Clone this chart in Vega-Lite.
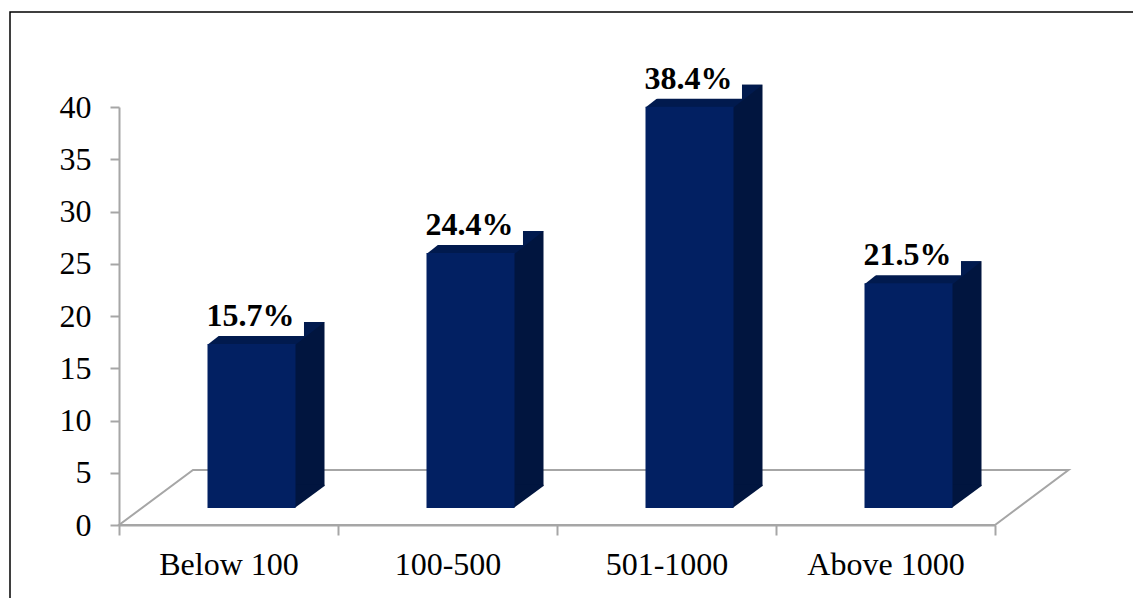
{
  "$schema": "https://vega.github.io/schema/vega-lite/v6.json",
  "width": 1140,
  "height": 600,
  "padding": {"left": 10, "top": 12, "right": 0, "bottom": 0},
  "autosize": {"type": "none"},
  "background": "white",
  "config": {"view": {"stroke": "#000000", "strokeWidth": 1.5}},
  "data": {
    "values": [
      {"cat": "Below 100", "value": 15.7, "label": "15.7%"},
      {"cat": "100-500", "value": 24.4, "label": "24.4%"},
      {"cat": "501-1000", "value": 38.4, "label": "38.4%"},
      {"cat": "Above 1000", "value": 21.5, "label": "21.5%"}
    ]
  },
  "encoding": {
    "x": {
      "field": "cat",
      "type": "nominal",
      "sort": null,
      "scale": {"range": [109, 985], "paddingInner": 0, "paddingOuter": 0},
      "axis": {
        "title": null,
        "orient": "bottom",
        "offset": -87,
        "tickBand": "extent",
        "tickSize": 10,
        "tickWidth": 2,
        "tickColor": "#A6A6A6",
        "domainColor": "#A6A6A6",
        "domainWidth": 2,
        "labelFont": "Liberation Serif",
        "labelFontSize": 32,
        "labelColor": "#000000",
        "labelAngle": 0,
        "labelBaseline": "alphabetic",
        "labelPadding": 39,
        "grid": false
      }
    },
    "y": {
      "field": "value",
      "type": "quantitative",
      "scale": {"domain": [0, 40], "range": [513, 95], "nice": false, "zero": true},
      "axis": {
        "title": null,
        "values": [0, 5, 10, 15, 20, 25, 30, 35, 40],
        "offset": -109,
        "tickSize": 9,
        "tickWidth": 2,
        "tickColor": "#A6A6A6",
        "domainColor": "#A6A6A6",
        "domainWidth": 2,
        "labelFont": "Liberation Serif",
        "labelFontSize": 32,
        "labelColor": "#000000",
        "labelPadding": 19,
        "labelBaseline": "middle",
        "grid": false
      }
    }
  },
  "layer": [
    {
      "transform": [{"filter": "datum.cat == 'Below 100'"}],
      "mark": {
        "type": "point",
        "shape": "M -1.095 0 L 7.665 0 L 8.4 -0.55 L -0.355 -0.55 Z",
        "size": 40000,
        "filled": false,
        "fill": null,
        "stroke": "#A6A6A6",
        "strokeWidth": 2,
        "opacity": 1
      },
      "encoding": {"y": {"datum": 0, "type": "quantitative"}}
    },
    {
      "mark": {"type": "bar", "width": 88, "xOffset": 52, "yOffset": -39, "y2Offset": -39, "color": "#01153F"}
    },
    {
      "mark": {
        "type": "point",
        "shape": "M 0.98 0 L 1.659 -0.5 L 1.659 -0.53 L 0.98 -0.53 Z",
        "size": 7744,
        "filled": true,
        "color": "#01153F",
        "strokeWidth": 0,
        "opacity": 1,
        "xOffset": 23,
        "yOffset": -17
      },
      "encoding": {"y": {"datum": 0, "type": "quantitative"}}
    },
    {
      "mark": {
        "type": "point",
        "shape": "M -1 0.02 L -0.341 -0.5 L 1.659 -0.5 L 1 0.02 Z",
        "size": 7744,
        "filled": true,
        "color": "#011A4E",
        "strokeWidth": 0,
        "opacity": 1,
        "xOffset": 23,
        "yOffset": -17
      }
    },
    {
      "mark": {"type": "bar", "width": 88, "xOffset": 23, "yOffset": -17, "y2Offset": -17, "color": "#022062"}
    },
    {
      "mark": {
        "type": "point",
        "shape": "M -1.01 -0.815 L 0.972 -0.815 L 0.972 -0.148 L -1.01 -0.148 Z",
        "size": 11664,
        "filled": true,
        "color": "#FFFFFF",
        "strokeWidth": 0,
        "opacity": 1,
        "xOffset": 23,
        "yOffset": -17
      }
    },
    {
      "mark": {
        "type": "text",
        "font": "Liberation Serif",
        "fontSize": 32,
        "fontWeight": "bold",
        "color": "#000000",
        "align": "center",
        "baseline": "alphabetic",
        "xOffset": 22,
        "yOffset": -35
      },
      "encoding": {"text": {"field": "label"}}
    }
  ]
}
